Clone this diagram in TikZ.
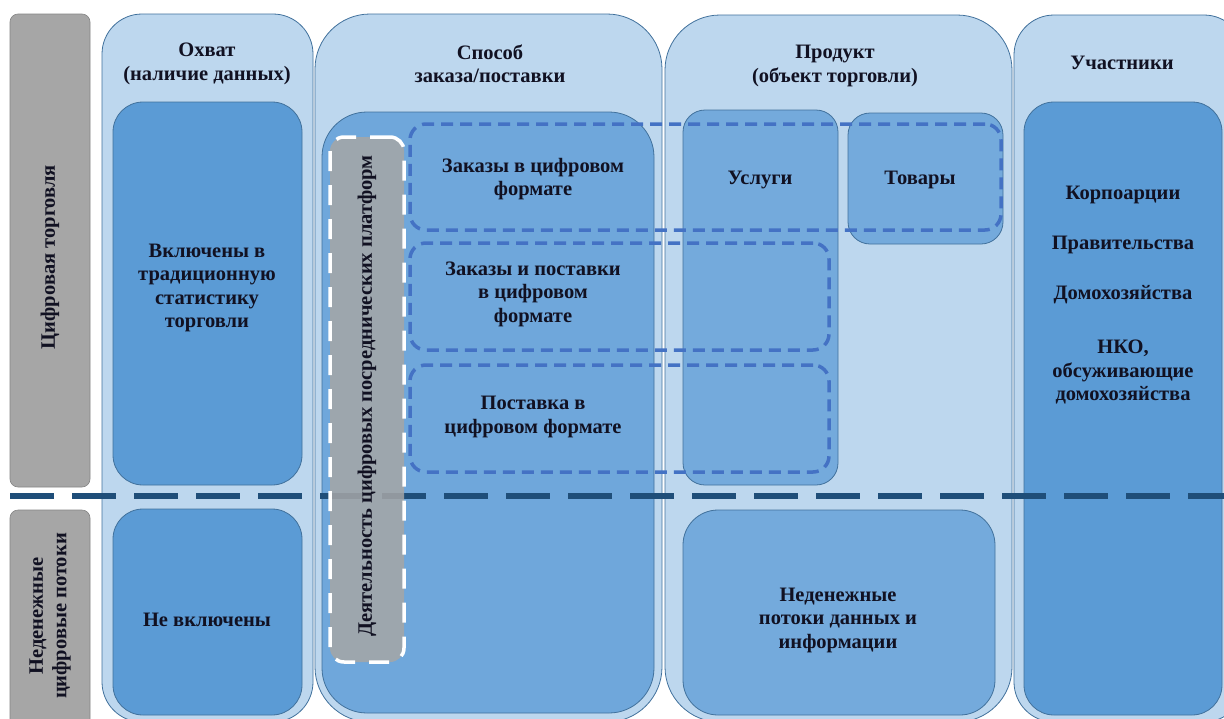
\documentclass[tikz,border=0pt]{standalone}
\usepackage{fontspec}
\setmainfont{Liberation Serif}
\definecolor{colfill}{HTML}{BDD7EE}
\definecolor{bordc}{HTML}{41719C}
\definecolor{inblue}{HTML}{5B9BD5}
\definecolor{inlight}{HTML}{6FA7DB}
\definecolor{prodbox}{HTML}{74AADC}
\definecolor{sidegray}{HTML}{A6A6A6}
\definecolor{dashc}{HTML}{4472C4}
\definecolor{sepc}{HTML}{1F4E79}
\definecolor{txtc}{HTML}{111122}
\begin{document}
\begin{tikzpicture}[x=1pt,y=-1pt,
  every node/.style={inner sep=0pt, outer sep=0pt},
  colbox/.style={rectangle, draw=bordc, line width=0.8pt, fill=colfill},
  inbox/.style={rectangle, draw=bordc, line width=0.8pt, fill=inblue},
  litebox/.style={rectangle, draw=bordc, line width=0.8pt, fill=inlight},
  prbox/.style={rectangle, draw=bordc, line width=0.8pt, fill=prodbox},
  sidebox/.style={rectangle, draw=sidegray!80!black, line width=0.6pt, fill=sidegray, rounded corners=8pt},
  dbox/.style={rectangle, draw=dashc, line width=3.5pt, dash pattern=on 12pt off 7pt, rounded corners=16pt},
  wbox/.style={rectangle, draw=white, line width=3.5pt, dash pattern=on 20pt off 14pt, rounded corners=14pt, fill=sidegray, fill opacity=0.85, draw opacity=1},
  lbl/.style={align=center, text=txtc, font=\fontsize{20.5}{23.5}\selectfont\bfseries},
  sepline/.style={draw=sepc, line width=5.5pt, dash pattern=on 44pt off 18pt}
]
\useasboundingbox (0,0) rectangle (1224,718);
\clip (0,0) rectangle (1224,718);
\fill[white] (0,0) rectangle (1224,718);

% side bars
\node[sidebox, minimum width=80pt, minimum height=473pt] (s1) at (50,250.5) {};
\node[sidebox, minimum width=80pt, minimum height=220pt] (s2) at (50,620) {};
\node[lbl, rotate=90] (s1t) at (50,257) {Цифровая торговля};
\node[lbl, rotate=90] (s2t) at (50,616) {Неденежные\\цифровые потоки};

% columns
\node[colbox, rounded corners=40pt, minimum width=211pt, minimum height=708pt] (c1) at (207.5,368) {};
\node[colbox, rounded corners=55pt, minimum width=347pt, minimum height=708pt] (c2) at (488.5,368) {};
\node[colbox, rounded corners=55pt, minimum width=347pt, minimum height=707pt] (c3) at (838.5,368.5) {};
\node[colbox, rounded corners=40pt, minimum width=230pt, minimum height=707pt] (c4) at (1129,368.5) {};

\node[lbl] (c1t) at (207,64) {Охват\\(наличие данных)};
\node[lbl] (c2t) at (490,64) {Способ\\заказа/поставки};
\node[lbl] (c3t) at (835,66) {Продукт\\(объект торговли)};
\node[lbl] (c4t) at (1122,63) {Участники};

% column 1
\node[inbox, rounded corners=30pt, minimum width=189pt, minimum height=383pt] (inc) at (207.5,293.5) {};
\node[lbl] (inct) at (207,288) {Включены в\\традиционную\\статистику\\торговли};
\node[inbox, rounded corners=30pt, minimum width=189pt, minimum height=206pt] (exc) at (207.5,612) {};
\node[lbl] (exct) at (207,620) {Не включены};

% column 2
\node[litebox, rounded corners=45pt, minimum width=332pt, minimum height=601pt] (way) at (488,412.5) {};

% column 3
\node[prbox, rounded corners=22pt, minimum width=155pt, minimum height=375pt] (serv) at (760.5,297.5) {};
\node[lbl] (servt) at (760,180) {Услуги};
\node[prbox, rounded corners=22pt, minimum width=155pt, minimum height=131pt] (goods) at (925.5,178.5) {};
\node[lbl] (goodst) at (920,180) {Товары};
\node[prbox, rounded corners=35pt, minimum width=312pt, minimum height=205pt] (nonm) at (839,612.5) {};
\node[lbl] (nonmt) at (838,620) {Неденежные\\потоки данных и\\информации};

% column 4
\node[inbox, rounded corners=30pt, minimum width=198pt, minimum height=613pt] (part) at (1123,408.5) {};
\node[lbl] (p1) at (1123,195) {Корпоарции};
\node[lbl] (p2) at (1123,245) {Правительства};
\node[lbl] (p3) at (1123,295) {Домохозяйства};
\node[lbl] (p4) at (1123,372) {НКО,\\обсуживающие\\домохозяйства};

% dashed groups
\node[dbox, minimum width=591pt, minimum height=106pt] (d1) at (705.5,177) {};
\node[lbl] (d1t) at (533,179) {Заказы в цифровом\\формате};
\node[dbox, minimum width=419pt, minimum height=107pt] (d2) at (619.5,296.5) {};
\node[lbl] (d2t) at (533,294) {Заказы и поставки\\в цифровом\\формате};
\node[dbox, minimum width=419pt, minimum height=107pt] (d3) at (619.5,418.5) {};
\node[lbl] (d3t) at (533,417) {Поставка в\\цифровом формате};

% separator
\coordinate (sepL) at (10,496);
\coordinate (sepR) at (1224,496);
\draw[sepline] (sepL) -- (sepR);

% platforms
\node[wbox, minimum width=74pt, minimum height=525pt] (plat) at (367,399.5) {};
\node[lbl, rotate=90] (platt) at (367,396) {Деятельность цифровых посреднических платформ};
\end{tikzpicture}
\end{document}
